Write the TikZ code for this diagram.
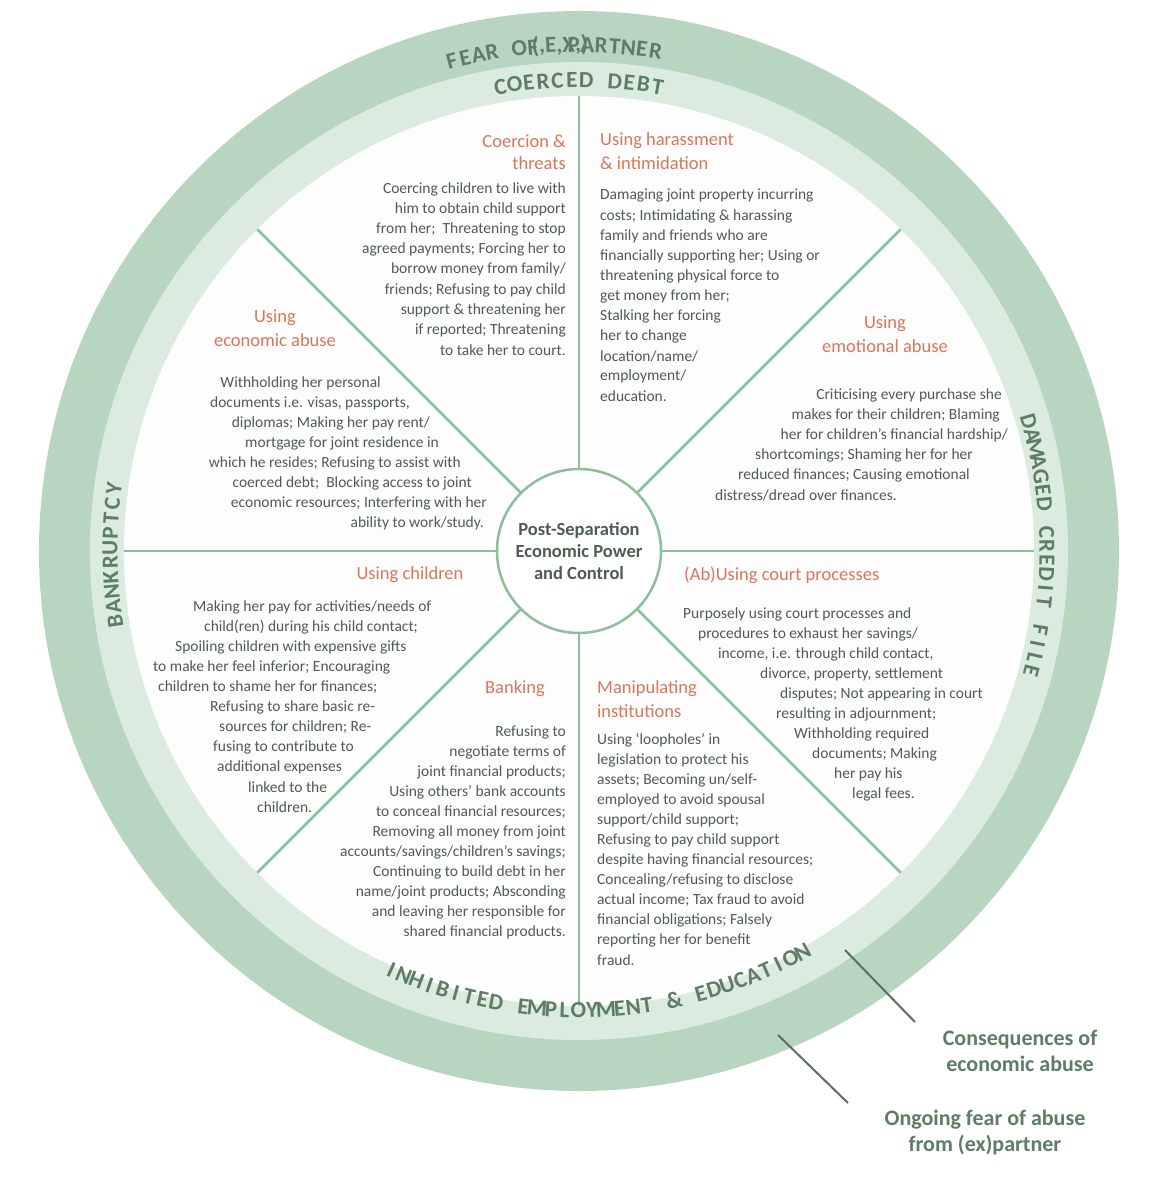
\documentclass[tikz,border=0pt]{standalone}
\usepackage{fontspec}
\setmainfont{Carlito}
\definecolor{ringA}{HTML}{B7D5BF}
\definecolor{ringB}{HTML}{DCEBDF}
\definecolor{disk}{HTML}{FDFDFD}
\definecolor{spoke}{HTML}{8DBF9A}
\definecolor{ttl}{HTML}{5E7D65}
\definecolor{org}{HTML}{D9765A}
\definecolor{bodyc}{HTML}{4F5C50}
\definecolor{ptr}{HTML}{5E6E60}
\newcounter{ln}
\newcommand\tl[4]{\stepcounter{ln}\node[body,anchor=#1] (L\arabic{ln}) at ({#2-579},{551-#3}) {#4};}
\newcommand\hd[4]{\stepcounter{ln}\node[head,anchor=#1] (L\arabic{ln}) at ({#2-579},{551-#3}) {#4};}
% #1 list, #2 N, #3 centre angle, #4 radius, #5 step (deg), #6 dir (-1 outward-up / +1 inward-up), #7 rot offset
\newcommand\ringword[7]{%
  \foreach \c [count=\i] in {#1}{%
    \pgfmathsetmacro\ang{#3+#6*(\i-(#2+1)/2)*#5}%
    \pgfmathsetmacro\rot{\ang+#7}%
    \stepcounter{ln}%
    \node[ringch,rotate=\rot] (R\arabic{ln}) at (\ang:#4) {\c};}}
\begin{document}
\begin{tikzpicture}[x=1pt,y=1pt,
  body/.style={inner sep=0pt,text=bodyc,font=\fontsize{15.5}{18}\selectfont},
  head/.style={inner sep=0pt,text=org,font=\fontsize{18.5}{20}\selectfont},
  ringch/.style={inner sep=0pt,text=ttl,font=\fontsize{23}{23}\selectfont\bfseries},
  sp/.style={draw=spoke,line width=2.5pt}]
\useasboundingbox (-579,-649) rectangle (586,551);
\fill[white] (-579,-649) rectangle (586,551);
\fill[ringA] (0,0) coordinate (O) circle[radius=540];
\fill[ringB] (0,0) circle[radius=489];
\fill[disk] (0,0) circle[radius=455];
\foreach \a in {0,45,...,315}{\draw[sp] (\a:82) -- (\a:455);}
\node[circle,draw=spoke,line width=2.5pt,fill=white,minimum size=164pt,inner sep=0pt,align=center,text=bodyc,font=\fontsize{18.5}{22}\selectfont\bfseries] (C) at (O) {Post-Separation\\Economic Power\\and Control};
% ring texts
\ringword{F,E,A,R,{},O,F,{},(,E,X,),P,A,R,T,N,E,R}{19}{90.6}{506}{1.55}{-1}{-90}
\ringword{C,O,E,R,C,E,D,{},D,E,B,T}{12}{90}{471}{1.75}{-1}{-90}
\ringword{B,A,N,K,R,U,P,T,C,Y}{10}{180.5}{469}{1.8}{-1}{-90}
\ringword{D,A,M,A,G,E,D,{},C,R,E,D,I,T,{},F,I,L,E}{19}{0.6}{468}{1.72}{-1}{-90}
\ringword{I,N,H,I,B,I,T,E,D,{},E,M,P,L,O,Y,M,E,N,T,{},\&,{},E,D,U,C,A,T,I,O,N}{32}{272.5}{459}{1.72}{1}{90}
% seg1
\hd{east}{566}{141}{Coercion \&}\hd{east}{566}{163}{threats}
\tl{east}{566}{189}{Coercing children to live with}
\tl{east}{566}{209}{him to obtain child support}
\tl{east}{566}{229}{from her;\ \ Threatening to stop}
\tl{east}{566}{249}{agreed payments; Forcing her to}
\tl{east}{566}{269}{borrow money from family/}
\tl{east}{566}{290}{friends; Refusing to pay child}
\tl{east}{566}{310}{support \& threatening her}
\tl{east}{566}{330}{if reported; Threatening}
\tl{east}{566}{350}{to take her to court.}
% seg2
\hd{west}{600}{141}{Using harassment}\hd{west}{600}{163}{\& intimidation}
\tl{west}{600}{196}{Damaging joint property incurring}
\tl{west}{600}{216}{costs; Intimidating \& harassing}
\tl{west}{600}{236}{family and friends who are}
\tl{west}{600}{256}{financially supporting her; Using or}
\tl{west}{600}{276}{threatening physical force to}
\tl{west}{600}{296}{get money from her;}
\tl{west}{600}{316}{Stalking her forcing}
\tl{west}{600}{336}{her to change}
\tl{west}{600}{356}{location/name/}
\tl{west}{600}{376}{employment/}
\tl{west}{600}{396}{education.}
% seg3
\hd{center}{885}{324}{Using}\hd{center}{885}{346}{emotional abuse}
\tl{east}{1002}{395}{Criticising every purchase she}
\tl{east}{1000}{415}{makes for their children; Blaming}
\tl{east}{1008}{435}{her for children’s financial hardship/}
\tl{east}{973}{455}{shortcomings; Shaming her for her}
\tl{east}{970}{475}{reduced finances; Causing emotional}
\tl{east}{897}{495}{distress/dread over finances.}
% seg4
\hd{center}{275}{318}{Using}\hd{center}{275}{340}{economic abuse}
\tl{east}{381}{383}{Withholding her personal}
\tl{east}{410}{403}{documents i.e. visas, passports,}
\tl{east}{430}{423}{diplomas; Making her pay rent/}
\tl{east}{439}{443}{mortgage for joint residence in}
\tl{east}{461}{463}{which he resides; Refusing to assist with}
\tl{east}{472}{483}{coerced debt;\ \ Blocking access to joint}
\tl{east}{487}{503}{economic resources; Interfering with her}
\tl{east}{484}{523}{ability to work/study.}
% seg5
\hd{center}{410}{575}{Using children}
\tl{west}{193}{607}{Making her pay for activities/needs of}
\tl{west}{204}{627}{child(ren) during his child contact;}
\tl{west}{175}{647}{Spoiling children with expensive gifts}
\tl{west}{153}{667}{to make her feel inferior; Encouraging}
\tl{west}{158}{687}{children to shame her for finances;}
\tl{west}{210}{707}{Refusing to share basic re-}
\tl{west}{219}{727}{sources for children; Re-}
\tl{west}{213}{747}{fusing to contribute to}
\tl{west}{217}{767}{additional expenses}
\tl{west}{248}{787}{linked to the}
\tl{west}{257}{807}{children.}
% seg6
\hd{center}{515}{689}{Banking}
\tl{east}{566}{732}{Refusing to}
\tl{east}{566}{752}{negotiate terms of}
\tl{east}{566}{772}{joint financial products;}
\tl{east}{566}{792}{Using others’ bank accounts}
\tl{east}{566}{812}{to conceal financial resources;}
\tl{east}{566}{832}{Removing all money from joint}
\tl{east}{566}{852}{accounts/savings/children’s savings;}
\tl{east}{566}{872}{Continuing to build debt in her}
\tl{east}{566}{892}{name/joint products; Absconding}
\tl{east}{566}{912}{and leaving her responsible for}
\tl{east}{566}{932}{shared financial products.}
% seg7
\hd{west}{597}{689}{Manipulating}\hd{west}{597}{711}{institutions}
\tl{west}{597}{740}{Using ‘loopholes’ in}
\tl{west}{597}{760}{legislation to protect his}
\tl{west}{597}{780}{assets; Becoming un/self-}
\tl{west}{597}{800}{employed to avoid spousal}
\tl{west}{597}{820}{support/child support;}
\tl{west}{597}{840}{Refusing to pay child support}
\tl{west}{597}{860}{despite having financial resources;}
\tl{west}{597}{880}{Concealing/refusing to disclose}
\tl{west}{597}{900}{actual income; Tax fraud to avoid}
\tl{west}{597}{920}{financial obligations; Falsely}
\tl{west}{597}{940}{reporting her for benefit}
\tl{west}{597}{960}{fraud.}
% seg8
\hd{west}{684}{575}{(Ab)Using court processes}
\tl{west}{683}{614}{Purposely using court processes and}
\tl{west}{698}{634}{procedures to exhaust her savings/}
\tl{west}{718}{654}{income, i.e. through child contact,}
\tl{west}{760}{674}{divorce, property, settlement}
\tl{west}{780}{694}{disputes; Not appearing in court}
\tl{west}{776}{714}{resulting in adjournment;}
\tl{west}{794}{734}{Withholding required}
\tl{west}{812}{754}{documents; Making}
\tl{west}{834}{774}{her pay his}
\tl{west}{852}{794}{legal fees.}
% pointers
\node[align=center,text=ttl,font=\fontsize{22}{26}\selectfont\bfseries,inner sep=0pt] (K1) at ({1020-579},{551-1051}) {Consequences of\\economic abuse};
\node[align=center,text=ttl,font=\fontsize{22}{26}\selectfont\bfseries,inner sep=0pt] (K2) at ({985-579},{551-1133}) {Ongoing fear of abuse\\from (ex)partner};
\coordinate (P1) at ({845-579},{551-950});
\coordinate (P2) at ({778-579},{551-1035});
\draw[ptr,line width=2pt] (P1) -- ({915-579},{551-1022});
\draw[ptr,line width=2pt] (P2) -- ({848-579},{551-1103});
\end{tikzpicture}
\end{document}
